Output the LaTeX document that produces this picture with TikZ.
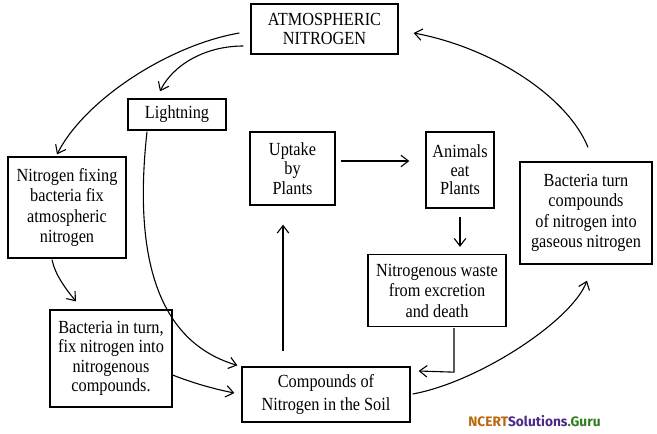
\documentclass[tikz,border=0pt]{standalone}
\usepackage{fontspec}
\setmainfont{Liberation Serif}
\newfontfamily\boxfont[FakeStretch=0.88]{Liberation Serif}
\newfontfamily\wmfont{Fira Sans}
\usetikzlibrary{arrows.meta,calc}
\definecolor{wmorange}{HTML}{B8680A}
\definecolor{wmpurple}{HTML}{4B2A8A}
\definecolor{wmgreen}{HTML}{2E7D1E}
\begin{document}
\begin{tikzpicture}[x=1pt,y=-1pt,
  box/.style={draw, line width=1.3pt, align=center, inner sep=0pt,
    font=\boxfont\fontsize{18.5}{20.5}\selectfont},
  arr/.style={line width=1.1pt, -{Straight Barb[length=7.5pt,width=11.5pt,line width=1.1pt]}}]
\useasboundingbox (0,0) rectangle (657,434);
\fill[white] (0,0) rectangle (657,434);
% boxes
\node[box, minimum width=147pt, minimum height=50pt, font=\boxfont\fontsize{18.5}{19}\selectfont] (atm) at (324.5,29) {ATMOSPHERIC\\NITROGEN};
\node[box, minimum width=98pt, minimum height=31pt] (light) at (177,114.5) {Lightning};
\node[box, minimum width=85pt, minimum height=73pt, font=\boxfont\fontsize{18.5}{19.5}\selectfont] (uptake) at (292.5,168.5) {Uptake\\by\\Plants};
\node[box, minimum width=68pt, minimum height=76pt, font=\boxfont\fontsize{18.5}{18.5}\selectfont] (animals) at (460,170) {Animals\\eat\\Plants};
\node[box, minimum width=132pt, minimum height=102pt] (bturn) at (586,213) {Bacteria turn\\compounds\\of nitrogen into\\gaseous nitrogen};
\node[box, minimum width=118pt, minimum height=101pt] (nfix) at (67,207.5) {Nitrogen fixing\\bacteria fix\\atmospheric\\nitrogen};
\node[box, minimum width=122pt, minimum height=97pt, font=\boxfont\fontsize{18.5}{19.5}\selectfont] (bin) at (111,358.5) {Bacteria in turn,\\fix nitrogen into\\nitrogenous\\compounds.};
\node[box, minimum width=168pt, minimum height=55pt, font=\boxfont\fontsize{18.5}{23}\selectfont] (comp) at (326,394.5) {Compounds of\\Nitrogen in the Soil};
\node[box, minimum width=138pt, minimum height=72pt] (waste) at (437,290.5) {Nitrogenous waste\\from excretion\\and death};
% watermark
\node[inner sep=0pt] (wm) at (534.5,421) {\wmfont\bfseries\fontsize{13.7}{15}\selectfont\textcolor{wmorange}{NCERT}\textcolor{wmpurple}{Solutions}\textcolor{wmgreen}{.Guru}};
% connectors
\draw[arr] ($(atm.west)+(-11,4)$) .. controls +(-70,12) and +(28,-55) .. ($(nfix.north)+(-10,-2)$);
\draw[arr] ($(atm.west)+(-7,17)$) .. controls +(-40,0) and +(12,-25) .. ($(light.north)+(-17,-7)$);
\draw[arr] ($(light.south)+(-30,1)$) .. controls +(-12,109) and +(-88,-26) .. ($(comp.north west)+(-4,-1)$);
\draw[arr] ($(nfix.south)+(-15,1)$) .. controls +(3,15) and +(-10,-12) .. ($(bin.north)+(-35,-8)$);
\draw[arr] ($(bin.east)+(0,16.5)$) .. controls +(20,8) and +(-20,-4) .. ($(comp.west)+(-7,-1.5)$);
\draw[arr] ($(comp.north)+(-43,-15)$) -- ($(uptake.south)+(-9.5,19)$);
\draw[arr] ($(uptake.east)+(5,-7.5)$) -- ($(animals.west)+(-16,-9)$);
\draw[arr] ($(animals.south)+(0,8)$) -- ($(waste.north)+(23,-7)$);
\coordinate (elbow) at ($(waste.south)+(17,45)$);
\draw[arr] ($(waste.south)+(17,1)$) -- (elbow) -- ($(comp.east)+(8,-23.5)$);
\draw[arr] ($(comp.east)+(2,-0.5)$) .. controls +(66,-12) and +(-15,40) .. ($(bturn.south)+(1,16)$);
\draw[arr] ($(bturn.north)+(2,-14)$) .. controls +(-20,-50) and +(80,15) .. ($(atm.east)+(15,4)$);
\end{tikzpicture}
\end{document}
